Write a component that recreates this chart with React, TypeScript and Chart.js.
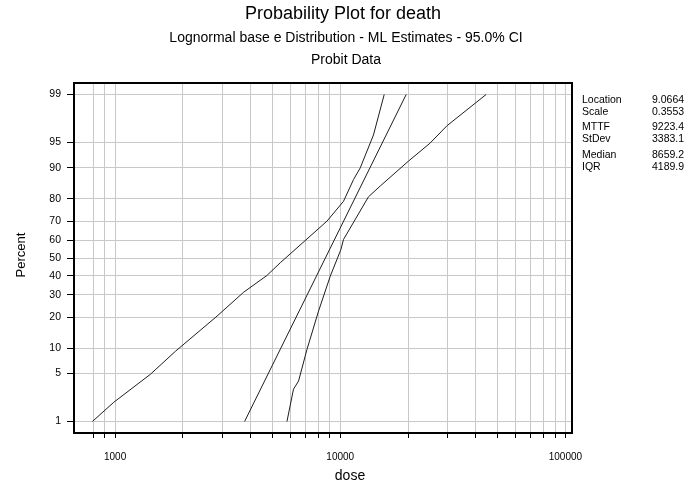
import React, { useEffect, useRef } from "react";
import { Chart, registerables } from "chart.js";

Chart.register(...registerables);

// ---- data ----
const percentTicks = [1, 5, 10, 20, 30, 40, 50, 60, 70, 80, 90, 95, 99];
const doseGridTicks = [
  800, 900, 1000, 2000, 3000, 4000, 5000, 6000, 7000, 8000, 9000, 10000,
  20000, 30000, 40000, 50000, 60000, 70000, 80000, 90000, 100000,
];
const doseLabelTicks = [1000, 10000, 100000];

const fitDose = [3760, 19630];
const fitPct = [1, 99];

const lowerDose = [793, 986, 1435, 1852, 2836, 3722, 4727, 5416, 8730, 10340, 11460, 12270, 14050, 15680];
const lowerPct = [1, 2.0, 4.9, 9.2, 20.4, 31.3, 40.2, 47.3, 70, 79, 86.8, 90, 96, 99];

const upperDose = [5800, 6200, 6530, 7120, 8010, 9030, 10070, 10340, 13350, 15100, 20100, 25080, 29760, 44460];
const upperPct = [1, 3.1, 4.0, 9.7, 22.5, 39.8, 54.8, 60.4, 80.8, 84.8, 91.6, 94.9, 97.0, 99];

const statLabels = ["Location", "Scale", "MTTF", "StDev", "Median", "IQR"];
const statValues = ["9.0664", "0.3553", "9223.4", "3383.1", "8659.2", "4189.9"];

const titleText = "Probability Plot for death";
const subtitleText = "Lognormal base e Distribution - ML Estimates - 95.0% CI";
const subtitle2Text = "Probit Data";
const xTitle = "dose";
const yTitle = "Percent";

// ---- probit scale transform (inverse normal CDF) ----
function probit(p: number): number {
  const a = [-3.969683028665376e1, 2.209460984245205e2, -2.759285104469687e2, 1.38357751867269e2, -3.066479806614716e1, 2.506628277459239];
  const b = [-5.447609879822406e1, 1.615858368580409e2, -1.556989798598866e2, 6.680131188771972e1, -1.328068155288572e1];
  const c = [-7.784894002430293e-3, -3.223964580411365e-1, -2.400758277161838, -2.549732539343734, 4.374664141464968, 2.938163982698783];
  const d = [7.784695709041462e-3, 3.224671290700398e-1, 2.445134137142996, 3.754408661907416];
  const plow = 0.02425;
  const phigh = 1 - plow;
  let q: number, r: number;
  if (p < plow) {
    q = Math.sqrt(-2 * Math.log(p));
    return (((((c[0] * q + c[1]) * q + c[2]) * q + c[3]) * q + c[4]) * q + c[5]) / ((((d[0] * q + d[1]) * q + d[2]) * q + d[3]) * q + 1);
  }
  if (p <= phigh) {
    q = p - 0.5;
    r = q * q;
    return ((((((a[0] * r + a[1]) * r + a[2]) * r + a[3]) * r + a[4]) * r + a[5]) * q) / (((((b[0] * r + b[1]) * r + b[2]) * r + b[3]) * r + b[4]) * r + 1);
  }
  q = Math.sqrt(-2 * Math.log(1 - p));
  return -(((((c[0] * q + c[1]) * q + c[2]) * q + c[3]) * q + c[4]) * q + c[5]) / ((((d[0] * q + d[1]) * q + d[2]) * q + d[3]) * q + 1);
}

const toPoints = (xs: number[], ps: number[]) => xs.map((x, i) => ({ x, y: probit(ps[i] / 100) }));

const FONT = "'Liberation Sans', Arial, Helvetica, sans-serif";

const textPlugin = {
  id: "textPlugin",
  afterDraw(chart: any) {
    const ctx = chart.ctx as CanvasRenderingContext2D;
    const ca = chart.chartArea;
    ctx.save();
    // frame
    ctx.strokeStyle = "#000";
    ctx.lineWidth = 2;
    ctx.strokeRect(ca.left, ca.top, ca.right - ca.left, ca.bottom - ca.top);

    ctx.fillStyle = "#000";
    ctx.textAlign = "center";
    ctx.textBaseline = "middle";
    ctx.font = `18px ${FONT}`;
    ctx.fillText(titleText, 343, 14);
    ctx.font = `14px ${FONT}`;
    ctx.fillText(subtitleText, 346, 38);
    ctx.fillText(subtitle2Text, 346, 60);

    // axis titles
    ctx.font = `14px ${FONT}`;
    ctx.fillText(xTitle, 350, 476);
    ctx.save();
    ctx.translate(21, 255);
    ctx.rotate(-Math.PI / 2);
    ctx.font = `13px ${FONT}`;
    ctx.fillText(yTitle, 0, 0);
    ctx.restore();

    // stats panel
    ctx.textAlign = "left";
    ctx.font = `10.5px ${FONT}`;
    const ys = [100, 112, 127, 139, 155, 167];
    statLabels.forEach((l, i) => {
      ctx.fillText(l, 582, ys[i]);
      ctx.fillText(statValues[i], 652, ys[i]);
    });
    ctx.restore();
  },
};

export default function App() {
  const ref = useRef<HTMLCanvasElement | null>(null);
  useEffect(() => {
    if (!ref.current) return;
    const lineStyle = {
      showLine: true,
      pointRadius: 0,
      borderColor: "#1e1e1e",
      borderWidth: 1,
      tension: 0,
      fill: false,
    };
    const chart = new Chart(ref.current, {
      type: "line",
      data: {
        datasets: [
          { ...lineStyle, label: "Lower", data: toPoints(lowerDose, lowerPct) },
          { ...lineStyle, label: "Fit", data: toPoints(fitDose, fitPct) },
          { ...lineStyle, label: "Upper", data: toPoints(upperDose, upperPct) },
        ],
      },
      options: {
        animation: false,
        responsive: false,
        devicePixelRatio: 1,
        layout: { padding: { top: 83, right: 127, left: 0, bottom: 0 } },
        plugins: {
          legend: { display: false },
          title: { display: false },
          tooltip: { enabled: false },
        },
        scales: {
          x: {
            type: "logarithmic",
            min: 657,
            max: 107000,
            afterBuildTicks: (s: any) => {
              s.ticks = doseGridTicks.map((v) => ({ value: v }));
            },
            afterFit: (s: any) => {
              s.height = 50;
            },
            ticks: {
              autoSkip: false,
              maxRotation: 0,
              minRotation: 0,
              padding: 13,
              color: "#000",
              font: { family: FONT, size: 10 },
              callback: (v: any) => (doseLabelTicks.includes(Number(v)) ? String(v) : ""),
            },
            grid: { color: "#c8c8c8", lineWidth: 1, drawTicks: true, tickLength: 5, tickColor: "#000" },
            border: { display: false },
          },
          y: {
            type: "linear",
            min: -2.49,
            max: 2.49,
            afterBuildTicks: (s: any) => {
              s.ticks = percentTicks.map((p) => ({ value: probit(p / 100) }));
            },
            afterFit: (s: any) => {
              s.width = 74;
            },
            ticks: {
              autoSkip: false,
              padding: 6,
              color: "#000",
              font: { family: FONT, size: 10.5 },
              callback: (_v: any, i: number) => String(percentTicks[i]),
            },
            grid: { color: "#c8c8c8", lineWidth: 1, drawTicks: true, tickLength: 7, tickColor: "#000" },
            border: { display: false },
          },
        },
      },
      plugins: [textPlugin],
    } as any);
    return () => chart.destroy();
  }, []);
  return (
    <div style={{ position: "fixed", left: 0, top: 0, width: 699, height: 483, background: "#fff" }}>
      <canvas ref={ref} width={699} height={483} style={{ width: 699, height: 483, display: "block" }} />
    </div>
  );
}
